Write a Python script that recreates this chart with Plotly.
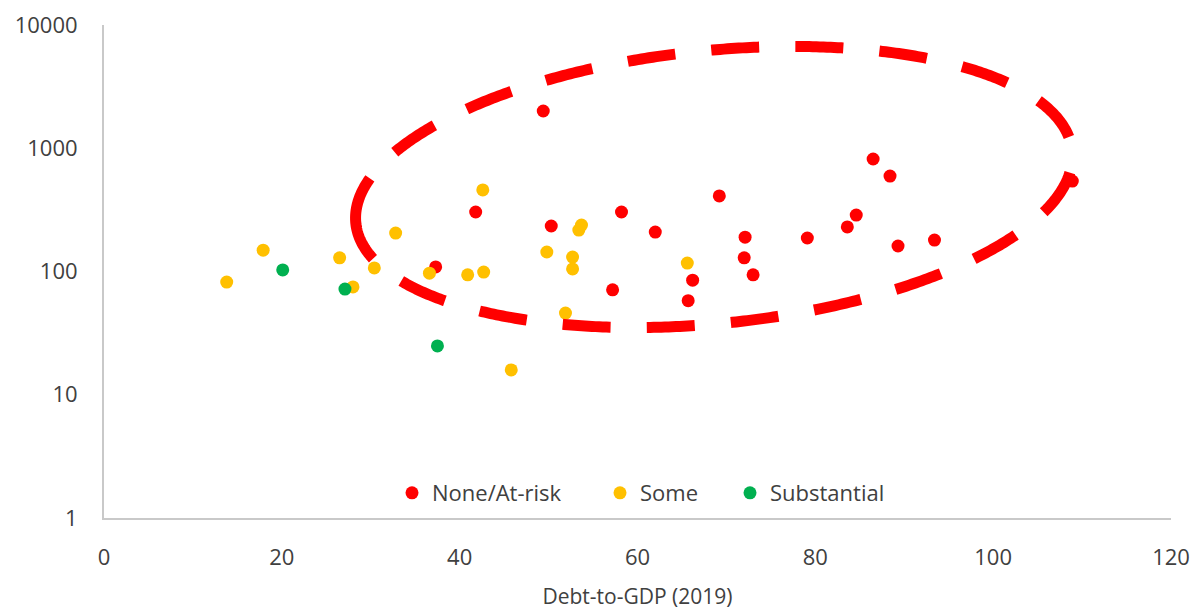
import numpy as np
import plotly.graph_objects as go

# ---- data ----
none_x = [49.4, 41.8, 50.3, 58.2, 62.0, 69.2, 72.1, 72.0, 73.0, 66.2, 65.7, 57.2, 37.3,
          86.5, 88.4, 84.6, 83.6, 79.1, 89.3, 93.4, 108.9]
none_y = [2005, 304, 234, 304, 209, 410, 190, 129, 94, 85, 58, 71, 109,
          818, 595, 287, 230, 187, 161, 180, 542]

some_x = [13.8, 17.9, 26.5, 28.0, 30.4, 32.8, 36.6, 40.9, 42.7, 42.6, 45.8, 49.8,
          53.7, 53.4, 52.7, 52.7, 51.9, 65.6]
some_y = [82, 149, 129, 75, 107, 205, 97, 94, 99, 459, 15.9, 144,
          238, 217, 131, 105, 46, 117]

subst_x = [20.1, 27.1, 37.5]
subst_y = [103, 72, 24.9]

series_names = ["None/At-risk", "Some", "Substantial"]
series_colors = ["#FF0000", "#FFC000", "#00B050"]

y_tickvals = [1, 10, 100, 1000, 10000]
y_ticktext = ["1", "10", "100", "1000", "10000"]
x_tickvals = [0, 20, 40, 60, 80, 100, 120]

# ---- layout geometry (pixels) ----
W, H = 1191, 610
ML, MR, MT, MB = 104, 20, 25, 92
PW, PH = W - ML - MR, H - MT - MB

FONT = "Open Sans"
TXT = "#404040"

fig = go.Figure()
legend_ids = ["legend", "legend2", "legend3"]
for name, col, xs, ys, lg in zip(series_names, series_colors,
                                  [none_x, some_x, subst_x],
                                  [none_y, some_y, subst_y], legend_ids):
    fig.add_trace(go.Scatter(x=xs, y=ys, mode="markers", name=name,
                             marker=dict(color=col, size=13, line=dict(width=0)),
                             legend=lg))

# ---- dashed ellipse annotation (pixel-space geometry -> paper coords) ----
cx, cy, a, b, th = 714.0, 187.0, 360.0, 136.5, np.deg2rad(-5.77)
t = np.linspace(np.pi, 3 * np.pi, 600)
px = cx + a * np.cos(th) * np.cos(t) - b * np.sin(th) * np.sin(t)
py = cy + a * np.sin(th) * np.cos(t) + b * np.cos(th) * np.sin(t)
perim = np.sum(np.hypot(np.diff(px), np.diff(py)))
dash_len = 48.0
n = round((perim - 40) / 84.0)
gap = (perim - 40) / n - dash_len
X = (px - ML) / PW
Y = (H - MB - py) / PH
path = "M " + " L ".join(f"{x:.5f},{y:.5f}" for x, y in zip(X, Y))
fig.add_shape(type="path", path=path, xref="paper", yref="paper",
              line=dict(color="#FF0000", width=11, dash=f"{dash_len:.1f}px,{gap:.1f}px"),
              layer="above")

axis_common = dict(showline=True, linecolor="#C9C9C9", linewidth=2, showgrid=False,
                   zeroline=False, ticks="outside", tickcolor="rgba(0,0,0,0)",
                   automargin=False,
                   tickfont=dict(family=FONT, size=22, color=TXT))

fig.update_layout(
    width=W, height=H,
    margin=dict(l=ML, r=MR, t=MT, b=MB),
    paper_bgcolor="white", plot_bgcolor="white",
    font=dict(family=FONT, size=22, color=TXT),
    xaxis=dict(range=[0, 120], tickvals=x_tickvals, ticklen=19,
               title=dict(text="Debt-to-GDP (2019)", font=dict(family=FONT, size=21, color=TXT),
                          standoff=22),
               **axis_common),
    yaxis=dict(type="log", range=[0, 4], tickvals=y_tickvals, ticktext=y_ticktext,
               ticklen=20, **axis_common),
    showlegend=True,
)

leg_dot_px = [412, 620, 750]
for lg, dx in zip(legend_ids, leg_dot_px):
    fig.update_layout(**{lg: dict(orientation="h", x=(dx - 20 - ML) / PW, xanchor="left",
                                  y=(H - MB - 493) / PH, yanchor="middle",
                                  bgcolor="rgba(0,0,0,0)", borderwidth=0,
                                  font=dict(family=FONT, size=22, color=TXT))})

fig.write_html("out.html", config={"displayModeBar": False},
               post_script="document.body.style.margin='0';")
